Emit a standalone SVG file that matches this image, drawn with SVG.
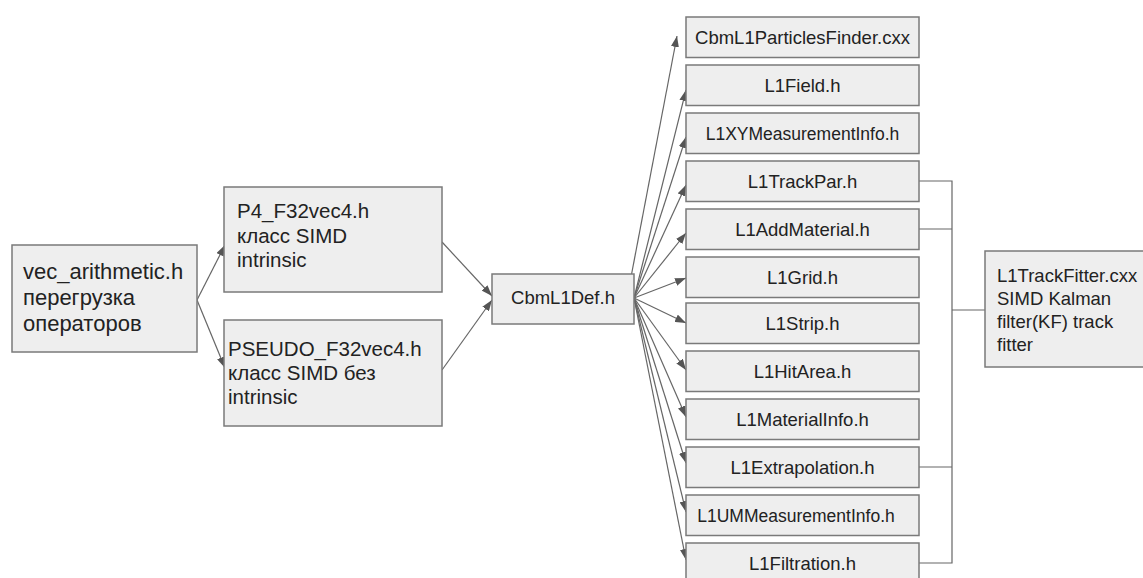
<svg xmlns="http://www.w3.org/2000/svg" width="1143" height="578" viewBox="0 0 1143 578">
<style>
.box{fill:#eeeeee;stroke:#7a7a7a;stroke-width:1.5}
.t{font-family:"Liberation Sans",Arial,sans-serif;fill:#222;}
.l{font-size:20.5px}
.lv{font-size:22px}
.r{font-size:18.5px;text-anchor:middle}
.rs{font-size:17.5px;text-anchor:middle}
.f{font-size:18.5px}
.c{stroke:#666;stroke-width:1.2;fill:none}
.a{marker-end:url(#ah)}
</style>
<defs>
<marker id="ah" markerUnits="userSpaceOnUse" markerWidth="11" markerHeight="8" refX="11" refY="4" orient="auto">
<path d="M0,0 L11,4 L0,8 z" fill="#555"/>
</marker>
</defs>
<rect width="1143" height="578" fill="#ffffff"/>
<g id="connectors">
<line class="c a" x1="197" y1="300" x2="225" y2="245"/>
<line class="c a" x1="197" y1="300" x2="225" y2="368"/>
<line class="c a" x1="442" y1="242" x2="492" y2="296"/>
<line class="c a" x1="442" y1="370" x2="492" y2="300"/>
<line class="c a" x1="627" y1="298" x2="677" y2="36"/>
<line class="c a" x1="634" y1="298" x2="686" y2="90"/>
<line class="c a" x1="634" y1="298" x2="686" y2="137"/>
<line class="c a" x1="634" y1="298" x2="686" y2="185"/>
<line class="c a" x1="634" y1="298" x2="686" y2="233"/>
<line class="c a" x1="634" y1="298" x2="686" y2="278"/>
<line class="c a" x1="634" y1="298" x2="686" y2="323"/>
<line class="c a" x1="634" y1="298" x2="686" y2="370"/>
<line class="c a" x1="634" y1="298" x2="686" y2="417"/>
<line class="c a" x1="634" y1="298" x2="686" y2="463"/>
<line class="c a" x1="634" y1="298" x2="686" y2="512"/>
<line class="c a" x1="634" y1="298" x2="686" y2="560"/>
<polyline class="c" points="919,181 952,181 952,563 919,563"/>
<line class="c" x1="919" y1="229" x2="952" y2="229"/>
<line class="c" x1="919" y1="467" x2="952" y2="467"/>
<line class="c" x1="952" y1="310" x2="985" y2="310"/>
</g>
<g id="vec_arithmetic">
<rect class="box" x="12" y="245" width="185" height="107"/>
<text class="t lv" x="23" y="279">vec_arithmetic.h</text>
<text class="t lv" x="23" y="305">перегрузка</text>
<text class="t lv" x="23" y="331">операторов</text>
</g>
<g id="p4">
<rect class="box" x="224" y="187" width="218" height="105"/>
<text class="t l" x="237" y="218">P4_F32vec4.h</text>
<text class="t l" x="237" y="243">класс SIMD</text>
<text class="t l" x="237" y="267">intrinsic</text>
</g>
<g id="pseudo">
<rect class="box" x="224" y="320" width="218" height="106"/>
<text class="t l" x="228" y="356">PSEUDO_F32vec4.h</text>
<text class="t l" x="228" y="380">класс SIMD без</text>
<text class="t l" x="228" y="404">intrinsic</text>
</g>
<g id="cbml1def">
<rect class="box" x="492" y="274" width="142" height="50"/>
<text class="t r" x="563" y="304">CbmL1Def.h</text>
</g>
<g id="n0"><rect class="box" x="686" y="17" width="233" height="40.5"/><text class="t r" x="802.5" y="43.5">CbmL1ParticlesFinder.cxx</text></g>
<g id="n1"><rect class="box" x="686" y="65" width="233" height="40.5"/><text class="t r" x="802.5" y="91.5">L1Field.h</text></g>
<g id="n2"><rect class="box" x="686" y="113" width="233" height="40.5"/><text class="t rs" x="802.5" y="139.5">L1XYMeasurementInfo.h</text></g>
<g id="n3"><rect class="box" x="686" y="161" width="233" height="40.5"/><text class="t r" x="802.5" y="187.5">L1TrackPar.h</text></g>
<g id="n4"><rect class="box" x="686" y="209" width="233" height="40.5"/><text class="t r" x="802.5" y="235.5">L1AddMaterial.h</text></g>
<g id="n5"><rect class="box" x="686" y="257" width="233" height="40.5"/><text class="t r" x="802.5" y="283.5">L1Grid.h</text></g>
<g id="n6"><rect class="box" x="686" y="303" width="233" height="40.5"/><text class="t r" x="802.5" y="329.5">L1Strip.h</text></g>
<g id="n7"><rect class="box" x="686" y="351" width="233" height="40.5"/><text class="t r" x="802.5" y="377.5">L1HitArea.h</text></g>
<g id="n8"><rect class="box" x="686" y="399" width="233" height="40.5"/><text class="t r" x="802.5" y="425.5">L1MaterialInfo.h</text></g>
<g id="n9"><rect class="box" x="686" y="447" width="233" height="40.5"/><text class="t r" x="802.5" y="473.5">L1Extrapolation.h</text></g>
<g id="n10"><rect class="box" x="686" y="495" width="233" height="40.5"/><text class="t rs" x="796" y="521.5">L1UMMeasurementInfo.h</text></g>
<g id="n11"><rect class="box" x="686" y="543" width="233" height="40.5"/><text class="t r" x="802.5" y="569.5">L1Filtration.h</text></g>
<g id="trackfitter">
<rect class="box" x="985" y="251" width="162" height="116"/>
<text class="t f" x="997" y="282">L1TrackFitter.cxx</text>
<text class="t f" x="997" y="305">SIMD Kalman</text>
<text class="t f" x="997" y="328">filter(KF) track</text>
<text class="t f" x="997" y="351">fitter</text>
</g>
</svg>
